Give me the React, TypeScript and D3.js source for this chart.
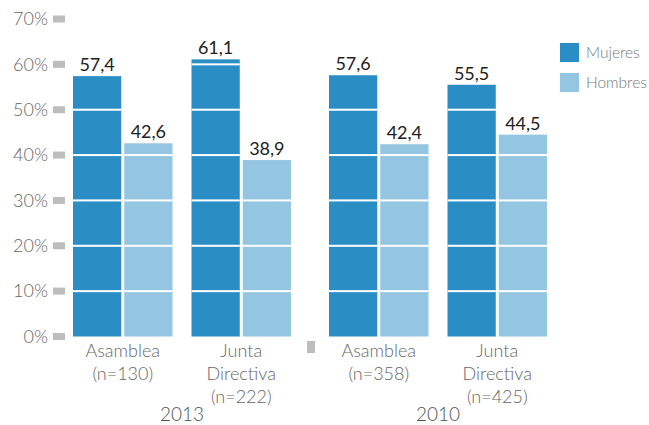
import React from "react";
import * as d3 from "d3";

const years = ["2013", "2010"];
const categories = ["Asamblea", "Junta Directiva"];
const categoryLabels: Record<string, string[][]> = {
  "2013": [["Asamblea", "(n=130)"], ["Junta", "Directiva", "(n=222)"]],
  "2010": [["Asamblea", "(n=358)"], ["Junta", "Directiva", "(n=425)"]],
};
const series = ["Mujeres", "Hombres"];
const mujeres: Record<string, number[]> = { "2013": [57.4, 61.1], "2010": [57.6, 55.5] };
const hombres: Record<string, number[]> = { "2013": [42.6, 38.9], "2010": [42.4, 44.5] };
const yTicks = [0, 10, 20, 30, 40, 50, 60, 70];
const colors = ["#2a8dc3", "#95c6e1"];

const W = 649;
const H = 425;
const FONT = "Lato, 'Open Sans', 'DejaVu Sans', sans-serif";

export default function App() {
  const y = d3.scaleLinear().domain([0, 70]).range([336.5, 19]);
  const yearScale = d3.scaleBand<string>().domain(years).range([73, 547]).paddingInner(38 / 256);
  const catScale = d3.scaleBand<string>().domain(categories).range([0, yearScale.bandwidth()]).paddingInner(19 / 118.5);
  const serScale = d3.scaleBand<string>().domain(series).range([0, catScale.bandwidth()]).paddingInner(3 / 51.25);
  const fmt = (v: number) => d3.format(".1f")(v).replace(".", ",");

  const bars: { x: number; w: number; v: number; c: string; key: string }[] = [];
  years.forEach((yr) => {
    categories.forEach((cat, ci) => {
      series.forEach((s, si) => {
        const v = si === 0 ? mujeres[yr][ci] : hombres[yr][ci];
        bars.push({
          x: (yearScale(yr) ?? 0) + (catScale(cat) ?? 0) + (serScale(s) ?? 0),
          w: serScale.bandwidth(),
          v,
          c: colors[si],
          key: `${yr}-${cat}-${s}`,
        });
      });
    });
  });

  return (
    <svg width={W} height={H} style={{ position: "absolute", left: 0, top: 0 }}>
      <rect width={W} height={H} fill="#fff" />
      {yTicks.map((t) => (
        <g key={t}>
          <rect x={53} y={y(t) - 3.5} width={12} height={7} fill="#bdbdbd" />
          <text x={48} y={y(t)} dy="0.35em" textAnchor="end" fontFamily={FONT} fontWeight={300} fontSize={18} fill="#666">
            {t}%
          </text>
        </g>
      ))}
      {bars.map((b) => (
        <g key={b.key}>
          <rect x={b.x} y={y(b.v)} width={b.w} height={y(0) - y(b.v)} fill={b.c} />
          {yTicks.filter((t) => t > 0 && t < b.v).map((t) => (
            <rect key={t} x={b.x} y={y(t) - 1} width={b.w} height={2} fill="#fff" />
          ))}
          <text x={b.x + b.w / 2} y={y(b.v) - 5} textAnchor="middle" fontFamily={FONT} fontSize={18} fill="#222">
            {fmt(b.v)}
          </text>
        </g>
      ))}
      <rect x={307} y={341} width={8} height={12} fill="#bdbdbd" />
      {years.map((yr) => (
        <g key={yr}>
          {categories.map((cat, ci) => {
            const cx = (yearScale(yr) ?? 0) + (catScale(cat) ?? 0) + catScale.bandwidth() / 2;
            return (
              <text key={cat} x={cx} y={357} textAnchor="middle" fontFamily={FONT} fontWeight={300} fontSize={18} fill="#666">
                {categoryLabels[yr][ci].map((line, li) => (
                  <tspan key={li} x={cx} dy={li === 0 ? 0 : 23}>
                    {line}
                  </tspan>
                ))}
              </text>
            );
          })}
          <text
            x={(yearScale(yr) ?? 0) + yearScale.bandwidth() / 2}
            y={421}
            textAnchor="middle"
            fontFamily={FONT}
            fontWeight={300}
            fontSize={19}
            fill="#555"
          >
            {yr}
          </text>
        </g>
      ))}
      {series.map((s, i) => (
        <g key={s}>
          <rect x={560} y={43 + i * 30} width={19} height={19} fill={colors[i]} />
          <text x={586} y={53 + i * 30} dy="0.35em" fontFamily={FONT} fontWeight={300} fontSize={15.5} fill="#777">
            {s}
          </text>
        </g>
      ))}
    </svg>
  );
}
